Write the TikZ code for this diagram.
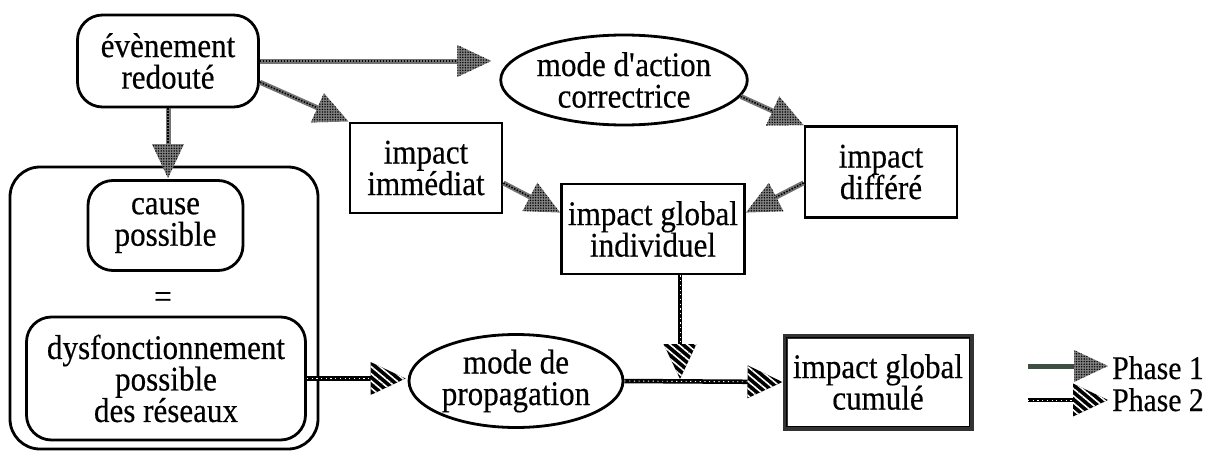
\documentclass[tikz,border=0pt]{standalone}
\usepackage{fontspec}
\setmainfont{Liberation Serif}[FakeStretch=0.9, FakeBold=0.4]
\usetikzlibrary{shapes.geometric,decorations.markings,patterns,patterns.meta}
\definecolor{legendgreen}{RGB}{62,78,66}
\newcommand\diagfont{\fontsize{34.5}{31.5}\selectfont\lineskiplimit=-30pt\relax}
\tikzset{
  txt/.style={font=\diagfont, align=center, inner sep=0pt},
  rbox/.style={txt, draw, line width=2.8pt, rounded corners=25pt},
  sbox/.style={txt, draw, line width=2.8pt},
  ebox/.style={txt, draw, line width=2.8pt, ellipse},
  headone/.style={postaction={decorate, draw=none, shorten >=0pt, decoration={markings,
     mark=at position 1 with {
       \fill[black!50] (0,0)--(-34,16)--(-34,-16)--cycle;
       \fill[pattern={Dots[distance=2.6pt, radius=0.8pt]}, pattern color=black] (0,0)--(-34,16)--(-34,-16)--cycle;}}}},
  headtwo/.style={postaction={decorate, draw=none, shorten >=0pt, decoration={markings,
     mark=at position 1 with {
       \fill[black] (0,0)--(-35,16.5)--(-35,-16.5)--cycle;
       \fill[pattern={Lines[angle=-40, distance=5.5pt, line width=1.6pt]}, pattern color=white] (0,0)--(-35,16.5)--(-35,-16.5)--cycle;}}}},
  phaseone/.style={draw=black!55, line width=5pt, shorten >=22pt,
     postaction={draw, black, line width=1.6pt, dash pattern=on 1.5pt off 1.5pt, shorten >=24pt}, headone},
  phaseonelegend/.style={draw=legendgreen, line width=5pt, shorten >=22pt, headone},
  phasetwo/.style={draw=black, line width=4.5pt, shorten >=22pt,
     postaction={draw, white, line width=0.9pt, dash pattern=on 1.2pt off 3.5pt, shorten >=24pt}, headtwo},
  legtxt/.style={font=\fontsize{33}{33}\selectfont, inner sep=0pt, anchor=base west},
}
\begin{document}
\begin{tikzpicture}[x=1pt,y=-1pt]
\useasboundingbox (0,0) rectangle (1229,450);
% nodes
\node[rbox, minimum width=181pt, minimum height=92pt] (ev) at (168,61) {évènement\\redouté};
\node[ebox, minimum width=245pt, minimum height=90pt] (mac) at (624,80) {mode d\textquotesingle action\\correctrice};
\node[sbox, minimum width=152pt, minimum height=90pt] (imm) at (426,168) {impact\\immédiat};
\node[sbox, minimum width=152pt, minimum height=91pt] (dif) at (881,172) {impact\\différé};
\node[sbox, minimum width=183pt, minimum height=90pt] (glob) at (653,229) {impact global\\individuel};
\node[draw, line width=2.8pt, rounded corners=30pt, minimum width=308pt, minimum height=282pt] (cont) at (164,308) {};
\node[rbox, minimum width=155pt, minimum height=90pt] (cause) at (165.5,225.5) {cause\\possible};
\node[txt] (eq) at (163,300) {=};
\node[rbox, minimum width=279pt, minimum height=123pt] (dys) at (166,378.5) {dysfonctionnement\\possible\\des réseaux};
\node[ebox, minimum width=214pt, minimum height=93pt] (prop) at (516,381) {mode de\\propagation};
\node[txt, draw=black!80, line width=5pt, minimum width=186pt, minimum height=92pt] (cum) at (878,382) {impact global\\cumulé};
\draw[line width=1.2pt] ([shift={(3.8pt,-3.8pt)}]cum.north west) rectangle ([shift={(-3.8pt,3.8pt)}]cum.south east);
\coordinate (j) at (680,379);
% phase 1 connectors
\draw[phaseone] (ev.east) -- ([xshift=-8pt]ev.east -| mac.west);
\draw[phaseone] (ev.-13) -- (imm.north west);
\draw[phaseone] (ev.south) -- ([yshift=1pt]ev.south |- cause.north);
\draw[phaseone] (mac.-8) -- (dif.north west);
\draw[phaseone] (imm.-11) -- (glob.170);
\draw[phaseone] (dif.188) -- (glob.10);
% phase 2 connectors
\draw[phasetwo] (dys.east) -- ([xshift=-2pt]dys.east -| prop.west);
\draw[phasetwo] (prop.east) -- (cum.west);
\draw[phasetwo] (glob.south -| j) -- (j);
% legend
\coordinate (l1a) at (1028,366);
\coordinate (l1b) at (1108,366);
\coordinate (l2a) at (1028,400);
\coordinate (l2b) at (1108,400);
\draw[phaseonelegend] (l1a) -- (l1b);
\draw[phasetwo] (l2a) -- (l2b);
\node[legtxt] (p1) at (1112,379) {Phase 1};
\node[legtxt] (p2) at (1112,411) {Phase 2};
\end{tikzpicture}
\end{document}
